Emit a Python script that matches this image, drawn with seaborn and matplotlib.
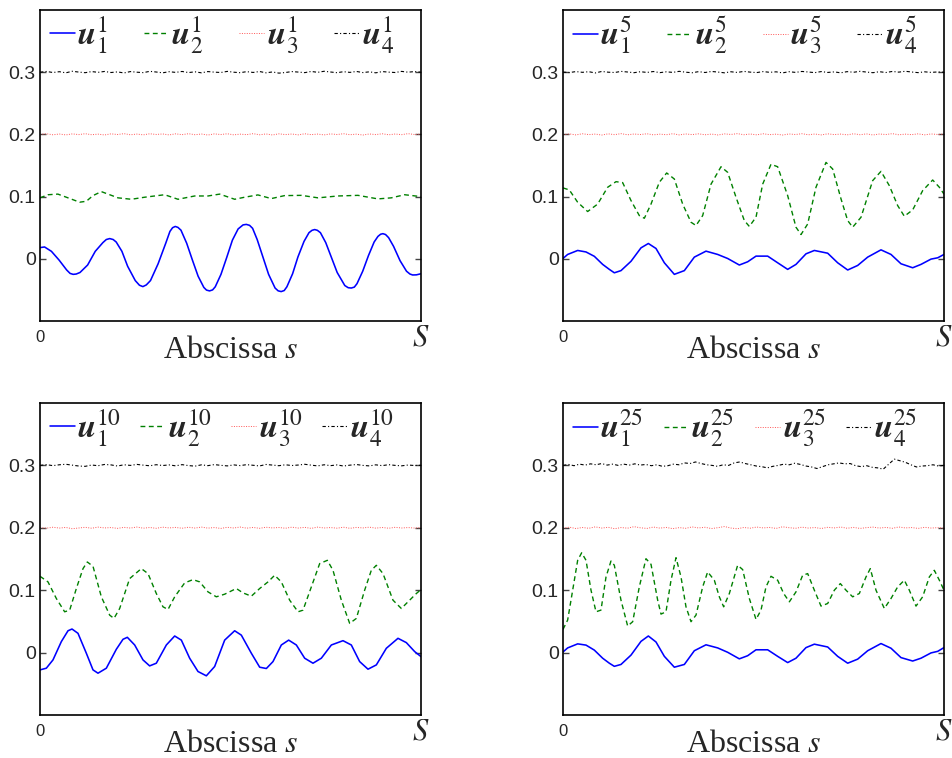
import numpy as np
import matplotlib
matplotlib.use("Agg")
import matplotlib.pyplot as plt
import seaborn as sns

# ---------------- data ----------------
# panel 1 (iteration 1)
p1_u1_x = [0.0, 0.012, 0.03, 0.05, 0.07, 0.079, 0.087, 0.095, 0.105, 0.125, 0.145, 0.165, 0.174, 0.183,
           0.192, 0.20, 0.215, 0.23, 0.25, 0.261, 0.27, 0.279, 0.29, 0.31, 0.33, 0.341, 0.348, 0.355, 0.362,
           0.37, 0.385, 0.40, 0.415, 0.43, 0.437, 0.445, 0.453, 0.46, 0.475, 0.49, 0.505, 0.52, 0.533, 0.5415,
           0.55, 0.558, 0.57, 0.585, 0.60, 0.617, 0.625, 0.633, 0.641, 0.648, 0.663, 0.677, 0.693, 0.706,
           0.714, 0.721, 0.728, 0.736, 0.75, 0.765, 0.78, 0.80, 0.809, 0.817, 0.825, 0.832, 0.847, 0.862,
           0.877, 0.887, 0.894, 0.90, 0.907, 0.915, 0.928, 0.945, 0.962, 0.971, 0.978, 0.988, 1.0]
p1_u1_y = [0.018, 0.019, 0.012, -0.002, -0.018, -0.0235, -0.025, -0.0245, -0.022, -0.010, 0.012, 0.026,
           0.031, 0.0325, 0.031, 0.027, 0.012, -0.012, -0.035, -0.0425, -0.0447, -0.042, -0.035, -0.008,
           0.025, 0.044, 0.050, 0.052, 0.0505, 0.046, 0.025, -0.002, -0.028, -0.046, -0.0503, -0.0516, -0.050,
           -0.045, -0.025, 0.002, 0.030, 0.048, 0.0545, 0.0553, 0.0538, 0.049, 0.031, 0.003, -0.025, -0.047,
           -0.0515, -0.0527, -0.051, -0.045, -0.024, 0.003, 0.028, 0.042, 0.0458, 0.047, 0.0458, 0.042, 0.026,
           0.002, -0.022, -0.043, -0.0465, -0.047, -0.0455, -0.040, -0.020, 0.005, 0.027, 0.036, 0.0395,
           0.0404, 0.039, 0.034, 0.020, -0.003, -0.020, -0.0245, -0.026, -0.0258, -0.024]
p1_u2_x = [0.0, 0.021, 0.047, 0.0735, 0.104, 0.1216, 0.139, 0.161, 0.183, 0.2047, 0.2397, 0.2747, 0.3272,
           0.3622, 0.406, 0.441, 0.4716, 0.511, 0.537, 0.572, 0.607, 0.642, 0.686, 0.7297, 0.782, 0.8346,
           0.887, 0.922, 0.957, 1.0]
p1_u2_y = [0.098, 0.103, 0.104, 0.098, 0.091, 0.0925, 0.1016, 0.108, 0.103, 0.098, 0.0957, 0.099, 0.103,
           0.0957, 0.101, 0.101, 0.104, 0.0957, 0.099, 0.1027, 0.0968, 0.1016, 0.102, 0.098, 0.101, 0.102,
           0.0963, 0.098, 0.103, 0.100]
p1_u3_y = [0.200, 0.2010, 0.1994, 0.2006, 0.1992, 0.2008, 0.1997, 0.2011, 0.1995, 0.2004, 0.1991, 0.2009,
           0.1998, 0.2012, 0.1994, 0.2005, 0.1993, 0.2010, 0.1999, 0.2007, 0.1992, 0.2009, 0.1996, 0.2011,
           0.1995, 0.2006, 0.1990, 0.2008, 0.1998, 0.2010, 0.1993, 0.2004, 0.1996, 0.2012, 0.1994, 0.2007,
           0.1991, 0.2009, 0.1997, 0.2006, 0.1993, 0.2010, 0.1996, 0.2005, 0.1992, 0.2008, 0.1998, 0.2011,
           0.1995, 0.2004, 0.1990, 0.2007, 0.1997, 0.2010, 0.1994, 0.2006, 0.1996, 0.2012, 0.1998, 0.2005]
p1_u4_y = [0.300, 0.3012, 0.2995, 0.3008, 0.2990, 0.3015, 0.3002, 0.2992, 0.3010, 0.2998, 0.3012, 0.2995,
           0.3005, 0.2988, 0.3010, 0.3000, 0.2993, 0.3014, 0.3003, 0.2990, 0.3008, 0.2997, 0.3012, 0.2994,
           0.3006, 0.2990, 0.3010, 0.3001, 0.2995, 0.3013, 0.3000, 0.2992, 0.3009, 0.2996, 0.3011, 0.2990,
           0.3004, 0.2985, 0.2995, 0.3010, 0.3002, 0.2993, 0.3012, 0.2998, 0.3015, 0.3003, 0.2992, 0.3008,
           0.2997, 0.3012, 0.2994, 0.3006, 0.2990, 0.3010, 0.3001, 0.2995, 0.3013, 0.3000, 0.3010, 0.3000]

# panel 2 (iteration 5)
p2_u1_x = [0.0, 0.0122, 0.0385, 0.0604, 0.0822, 0.1041, 0.1216, 0.1347, 0.1522, 0.1785, 0.2047, 0.224,
           0.2441, 0.266, 0.2922, 0.3185, 0.3447, 0.3753, 0.406, 0.4322, 0.4628, 0.4847, 0.5066, 0.5372,
           0.5634, 0.5897, 0.6115, 0.6378, 0.6597, 0.6947, 0.7209, 0.7472, 0.7734, 0.7997, 0.8346, 0.8609,
           0.8871, 0.9178, 0.9396, 0.9659, 0.9834, 1.0]
p2_u1_y = [0.0005, 0.007, 0.0134, 0.011, 0.004, -0.009, -0.017, -0.0225, -0.019, -0.004, 0.0176, 0.0246,
           0.0166, -0.0064, -0.025, -0.019, 0.0027, 0.0123, 0.007, 0.0005, -0.010, -0.0048, 0.0043, 0.0043,
           -0.0064, -0.017, -0.009, 0.008, 0.0134, 0.009, -0.0064, -0.018, -0.0107, 0.0027, 0.0144, 0.007,
           -0.008, -0.0144, -0.009, -0.0005, 0.0016, 0.007]
p2_u2_x = [0.0, 0.0166, 0.0385, 0.0647, 0.091, 0.1172, 0.1391, 0.1566, 0.1785, 0.2003, 0.2135, 0.231,
           0.2528, 0.2721, 0.2922, 0.3141, 0.336, 0.3491, 0.3666, 0.3885, 0.4147, 0.4322, 0.4541, 0.4759,
           0.4891, 0.5066, 0.5241, 0.5459, 0.5634, 0.5897, 0.6115, 0.6247, 0.6422, 0.664, 0.6903, 0.7078,
           0.7297, 0.7472, 0.7603, 0.7822, 0.8128, 0.8346, 0.8565, 0.8784, 0.8959, 0.9178, 0.944, 0.9703,
           0.9878, 1.0]
p2_u2_y = [0.114, 0.1107, 0.0909, 0.076, 0.088, 0.115, 0.124, 0.1225, 0.0936, 0.0695, 0.0652, 0.088, 0.123,
           0.138, 0.1283, 0.088, 0.0588, 0.0535, 0.0695, 0.120, 0.148, 0.139, 0.099, 0.0615, 0.052, 0.067,
           0.120, 0.152, 0.148, 0.1016, 0.0508, 0.039, 0.056, 0.115, 0.155, 0.1444, 0.0963, 0.0615, 0.0508,
           0.0668, 0.1257, 0.1406, 0.1176, 0.0856, 0.0684, 0.0786, 0.1096, 0.1267, 0.115, 0.104]
p2_u3_y = [0.1995, 0.2008, 0.1992, 0.2010, 0.1997, 0.2005, 0.1990, 0.2009, 0.1996, 0.2012, 0.1994, 0.2006,
           0.1998, 0.2010, 0.1993, 0.2004, 0.1995, 0.2011, 0.1992, 0.2007, 0.1997, 0.2009, 0.1994, 0.2005,
           0.1991, 0.2008, 0.1999, 0.2012, 0.1995, 0.2006, 0.1993, 0.2010, 0.1996, 0.2004, 0.1990, 0.2007,
           0.1998, 0.2011, 0.1994, 0.2006, 0.1992, 0.2009, 0.1997, 0.2005, 0.1993, 0.2010, 0.1995, 0.2008,
           0.1991, 0.2006, 0.1998, 0.2012, 0.1994, 0.2004, 0.1996, 0.2009, 0.1993, 0.2007, 0.1999, 0.2005]
p2_u4_y = [0.3002, 0.2994, 0.3010, 0.2998, 0.3008, 0.2988, 0.3012, 0.3000, 0.2995, 0.3013, 0.3003, 0.2992,
           0.3008, 0.2996, 0.3011, 0.2993, 0.3006, 0.2997, 0.3014, 0.3000, 0.2991, 0.3009, 0.2995, 0.3012,
           0.3002, 0.2990, 0.3007, 0.2996, 0.3013, 0.3001, 0.2994, 0.3010, 0.2998, 0.3006, 0.2989, 0.3008,
           0.2997, 0.3012, 0.3003, 0.2993, 0.3010, 0.2996, 0.3005, 0.2990, 0.3009, 0.2999, 0.3014, 0.3002,
           0.2992, 0.3008, 0.2995, 0.3012, 0.3001, 0.3015, 0.3003, 0.2993, 0.3006, 0.2997, 0.3004, 0.2999]

# panel 3 (iteration 10)
p3_u1_x = [0.0, 0.0166, 0.0341, 0.056, 0.0735, 0.084, 0.0997, 0.1216, 0.1391, 0.1522, 0.1741, 0.2003,
           0.2178, 0.2292, 0.2485, 0.2703, 0.2878, 0.3053, 0.3316, 0.3535, 0.3710, 0.3928, 0.4147, 0.4366,
           0.4584, 0.4847, 0.5109, 0.5284, 0.5547, 0.5766, 0.5941, 0.6115, 0.6334, 0.6527, 0.6728, 0.6947,
           0.7165, 0.7384, 0.7647, 0.7953, 0.8171, 0.839, 0.8609, 0.8828, 0.909, 0.9396, 0.9615, 0.9834, 1.0]
p3_u1_y = [-0.0277, -0.025, -0.0117, 0.0176, 0.035, 0.0378, 0.0309, -0.001, -0.0277, -0.033, -0.025, 0.0053,
           0.0213, 0.0245, 0.0122, -0.0117, -0.0213, -0.017, 0.0122, 0.0266, 0.020, -0.009, -0.0303, -0.0372,
           -0.0223, 0.020, 0.035, 0.028, -0.001, -0.0234, -0.0255, -0.0144, 0.0122, 0.020, 0.0122, -0.009,
           -0.017, -0.009, 0.0122, 0.0191, 0.0122, -0.0144, -0.0266, -0.0197, 0.0069, 0.0229, 0.016, 0.0016,
           -0.0064]
p3_u2_x = [0.0, 0.021, 0.0429, 0.0647, 0.0779, 0.0954, 0.1129, 0.1242, 0.1391, 0.161, 0.1829, 0.1942,
           0.2091, 0.2353, 0.266, 0.2835, 0.3053, 0.3228, 0.336, 0.3535, 0.3797, 0.4016, 0.4191, 0.441,
           0.4628, 0.4847, 0.5153, 0.5328, 0.5547, 0.5766, 0.5984, 0.6159, 0.6334, 0.6553, 0.6772, 0.6903,
           0.7122, 0.734, 0.7542, 0.769, 0.7909, 0.8128, 0.8303, 0.8521, 0.8696, 0.8828, 0.9003, 0.9265,
           0.9484, 0.9659, 0.9878, 1.0]
p3_u2_y = [0.1223, 0.1133, 0.0867, 0.0654, 0.068, 0.1027, 0.1346, 0.1452, 0.1383, 0.0894, 0.060, 0.0548,
           0.0707, 0.1186, 0.1346, 0.1266, 0.0947, 0.0734, 0.0691, 0.0894, 0.1117, 0.117, 0.1133, 0.0973,
           0.0894, 0.0936, 0.1027, 0.0957, 0.0904, 0.1027, 0.1133, 0.1239, 0.1133, 0.084, 0.0654, 0.068,
           0.1053, 0.1426, 0.1479, 0.1319, 0.084, 0.0468, 0.0548, 0.10, 0.1319, 0.1399, 0.1266, 0.084,
           0.0707, 0.0814, 0.0947, 0.101]
p3_u3_y = [0.2002, 0.1994, 0.2009, 0.1996, 0.2006, 0.1985, 0.1997, 0.2008, 0.1993, 0.2011, 0.1998, 0.2004,
           0.1991, 0.2007, 0.1996, 0.2012, 0.1994, 0.2005, 0.1992, 0.2010, 0.1998, 0.2006, 0.1993, 0.2009,
           0.1996, 0.2011, 0.1995, 0.2004, 0.1990, 0.2008, 0.1997, 0.2012, 0.1994, 0.2006, 0.1992, 0.2009,
           0.1998, 0.2005, 0.1993, 0.2010, 0.1996, 0.2007, 0.1991, 0.2011, 0.1997, 0.2004, 0.1994, 0.2009,
           0.1992, 0.2006, 0.1998, 0.2010, 0.1995, 0.2005, 0.1993, 0.2008, 0.1997, 0.2004, 0.1996, 0.2002]
p3_u4_y = [0.3000, 0.3012, 0.2996, 0.3010, 0.3018, 0.3004, 0.2990, 0.2985, 0.3006, 0.2995, 0.3015, 0.3008,
           0.2990, 0.3010, 0.3000, 0.3016, 0.3004, 0.2994, 0.3011, 0.2998, 0.3008, 0.2993, 0.3012, 0.2997,
           0.2988, 0.3009, 0.2996, 0.3013, 0.3001, 0.2992, 0.3008, 0.2997, 0.3012, 0.3002, 0.2991, 0.3015,
           0.3005, 0.2995, 0.3010, 0.2998, 0.3006, 0.3018, 0.3004, 0.2992, 0.3010, 0.2996, 0.3008, 0.2990,
           0.3004, 0.3014, 0.3000, 0.2992, 0.3009, 0.2996, 0.3012, 0.3000, 0.2993, 0.3006, 0.2998, 0.3002]

# panel 4 (iteration 25)
p4_u1_x = p2_u1_x
p4_u1_y = [0.001, 0.0075, 0.014, 0.012, 0.004, -0.009, -0.017, -0.022, -0.019, -0.004, 0.018, 0.0266,
           0.017, -0.006, -0.0234, -0.019, 0.003, 0.0125, 0.0075, 0.0005, -0.010, -0.005, 0.0045, 0.0045,
           -0.006, -0.016, -0.009, 0.008, 0.0135, 0.009, -0.006, -0.017, -0.0105, 0.003, 0.0145, 0.007,
           -0.008, -0.0135, -0.009, -0.0005, 0.002, 0.008]
p4_u2_x = [0.0, 0.0122, 0.0254, 0.0385, 0.049, 0.0604, 0.0735, 0.0866, 0.0997, 0.1129, 0.126, 0.1347,
           0.1522, 0.1697, 0.1829, 0.2003, 0.2178, 0.231, 0.2485, 0.2572, 0.2703, 0.2835, 0.2966, 0.3097,
           0.3228, 0.336, 0.3491, 0.3666, 0.3797, 0.3972, 0.4103, 0.4217, 0.4366, 0.4584, 0.4716, 0.4891,
           0.5066, 0.5197, 0.5328, 0.5459, 0.5634, 0.5792, 0.5941, 0.6115, 0.629, 0.6422, 0.6597, 0.6772,
           0.6947, 0.7122, 0.7279, 0.7428, 0.7603, 0.7778, 0.7953, 0.8066, 0.8215, 0.8434, 0.8609, 0.8784,
           0.8959, 0.909, 0.9265, 0.944, 0.9615, 0.9746, 0.9878, 1.0]
p4_u2_y = [0.0372, 0.0521, 0.1, 0.1479, 0.160, 0.1479, 0.1, 0.0654, 0.0681, 0.1213, 0.1468, 0.140, 0.084,
           0.0426, 0.0495, 0.1053, 0.1505, 0.1415, 0.084, 0.0617, 0.0654, 0.116, 0.1521, 0.1213, 0.0734,
           0.0495, 0.0601, 0.1053, 0.1293, 0.116, 0.0894, 0.0734, 0.0947, 0.140, 0.133, 0.0867, 0.0532,
           0.0681, 0.1053, 0.1223, 0.116, 0.0947, 0.0814, 0.0973, 0.1239, 0.1266, 0.1, 0.0745, 0.0787, 0.1,
           0.1106, 0.1, 0.0894, 0.0947, 0.1213, 0.1346, 0.1, 0.0707, 0.0867, 0.1053, 0.116, 0.1, 0.0745,
           0.0894, 0.1213, 0.1319, 0.116, 0.1]
p4_u3_y = [0.1995, 0.2010, 0.1988, 0.2005, 0.1992, 0.2015, 0.1996, 0.2008, 0.1985, 0.2004, 0.1994, 0.2018,
           0.2000, 0.1990, 0.2012, 0.1995, 0.2006, 0.1986, 0.2003, 0.1992, 0.2014, 0.1998, 0.2008, 0.1988,
           0.2002, 0.2020, 0.1996, 0.1985, 0.2005, 0.1994, 0.2012, 0.1998, 0.2006, 0.1990, 0.2016, 0.2002,
           0.1992, 0.2010, 0.1996, 0.2004, 0.1989, 0.2008, 0.1998, 0.2012, 0.1993, 0.2006, 0.1990, 0.2003,
           0.2011, 0.1996, 0.2006, 0.1992, 0.2013, 0.1998, 0.2004, 0.1990, 0.2008, 0.1996, 0.2002, 0.1995]
p4_u4_y = [0.300, 0.3015, 0.2995, 0.3020, 0.3005, 0.3025, 0.3010, 0.3030, 0.3005, 0.3020, 0.3000, 0.3020,
           0.3005, 0.3025, 0.3005, 0.3015, 0.2995, 0.3010, 0.2985, 0.2995, 0.3020, 0.3010, 0.3040, 0.3030,
           0.3055, 0.3030, 0.3010, 0.3000, 0.2985, 0.3010, 0.3000, 0.3040, 0.3055, 0.3030, 0.3010, 0.2990,
           0.2980, 0.2960, 0.2985, 0.3000, 0.3020, 0.3010, 0.3035, 0.3015, 0.2990, 0.2975, 0.2950, 0.2980,
           0.3010, 0.3025, 0.3040, 0.3025, 0.3030, 0.2995, 0.2980, 0.2995, 0.2970, 0.2960, 0.2940, 0.3020,
           0.3100, 0.3075, 0.3050, 0.3010, 0.2975, 0.2990, 0.2995, 0.3010, 0.2990, 0.3000]

iterations = ["1", "5", "10", "25"]
y_ticks = [0, 0.1, 0.2, 0.3]
y_tick_labels = ["0", "0.1", "0.2", "0.3"]
x_tick_labels = ["0", "$S$"]
x_label = "Abscissa $s$"

panels = [
    (p1_u1_x, p1_u1_y, p1_u2_x, p1_u2_y, p1_u3_y, p1_u4_y),
    (p2_u1_x, p2_u1_y, p2_u2_x, p2_u2_y, p2_u3_y, p2_u4_y),
    (p3_u1_x, p3_u1_y, p3_u2_x, p3_u2_y, p3_u3_y, p3_u4_y),
    (p4_u1_x, p4_u1_y, p4_u2_x, p4_u2_y, p4_u3_y, p4_u4_y),
]

# ---------------- style ----------------
sns.set_style("white")
plt.rcParams["font.family"] = ["Liberation Sans", "DejaVu Sans"]
plt.rcParams["mathtext.fontset"] = "stix"
plt.rcParams["lines.solid_joinstyle"] = "round"
plt.rcParams["lines.dash_joinstyle"] = "round"

fig = plt.figure(figsize=(9.52, 7.58), dpi=100)
W, H = 952.0, 758.0
boxes = [(40, 10, 421, 321), (563, 10, 944, 321), (40, 403, 421, 715), (563, 403, 944, 715)]

for (l, t, r, b), it, data in zip(boxes, iterations, panels):
    ax = fig.add_axes([l / W, 1 - b / H, (r - l) / W, (b - t) / H])
    u1x, u1y, u2x, u2y, u3y, u4y = data
    u3x = np.linspace(0, 1, len(u3y))
    u4x = np.linspace(0, 1, len(u4y))
    sns.lineplot(x=u1x, y=u1y, ax=ax, color="#0000ff", linewidth=1.15, estimator=None,
                 label=r"$\mathbfit{u}_1^{%s}$" % it)
    sns.lineplot(x=u2x, y=u2y, ax=ax, color="#008000", linewidth=1.0, estimator=None,
                 linestyle=(0, (3.5, 2.5)), label=r"$\mathbfit{u}_2^{%s}$" % it)
    sns.lineplot(x=u3x, y=u3y, ax=ax, color="#ff5555", linewidth=0.7, estimator=None,
                 linestyle=(0, (1, 1.5)), label=r"$\mathbfit{u}_3^{%s}$" % it)
    sns.lineplot(x=u4x, y=u4y, ax=ax, color="black", linewidth=0.8, estimator=None,
                 linestyle=(0, (3, 2, 1, 2)), label=r"$\mathbfit{u}_4^{%s}$" % it)

    ax.set_xlim(0, 1)
    ax.set_ylim(-0.1, 0.4)
    ax.set_yticks(y_ticks)
    ax.set_yticklabels(y_tick_labels, fontsize=14)
    ax.set_xticks([0, 1])
    ax.set_xticklabels(x_tick_labels)
    xl = ax.get_xticklabels()
    xl[0].set_fontsize(12)
    xl[1].set_fontsize(22)
    for lab in xl:
        lab.set_va("center")
    ax.tick_params(axis="x", direction="in", length=0, pad=12)
    ax.tick_params(axis="y", direction="in", length=4, pad=3, right=True, left=True,
                   color="#444444", width=1)
    for sp in ax.spines.values():
        sp.set_color("black")
        sp.set_linewidth(1.2)

    ax.set_xlabel(x_label, fontsize=23, family=["Liberation Serif", "DejaVu Serif"])
    ax.xaxis.label.set_va("baseline")
    ax.xaxis.set_label_coords(0.5, -0.119)
    ax.set_ylabel("")

    ax.legend(loc="upper left", bbox_to_anchor=(0.012, 0.0, 0.93, 1.0), mode="expand", ncol=4,
              frameon=False, fontsize=24, handlelength=0.75, handletextpad=0.08,
              columnspacing=0.5, borderaxespad=0.0, borderpad=0.15)

fig.savefig("out.png", dpi=100)
